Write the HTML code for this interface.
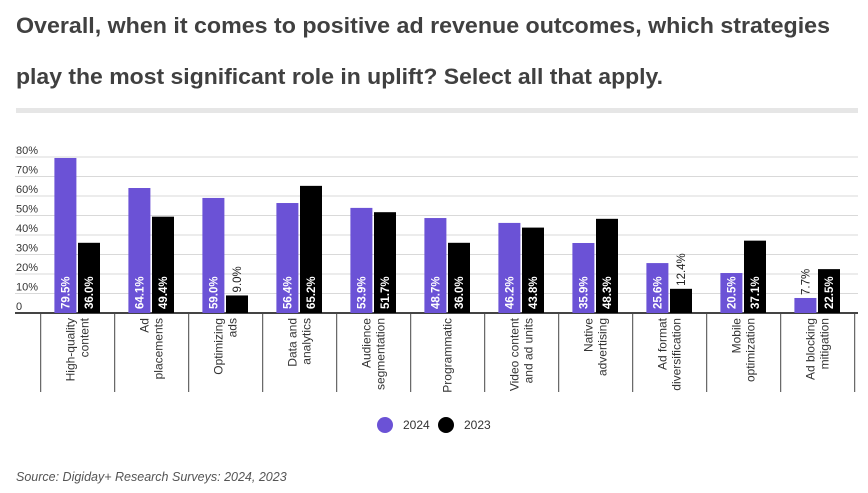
<!DOCTYPE html>
<html><head><meta charset="utf-8"><style>
html,body{margin:0;padding:0;background:#fff;width:868px;height:493px;overflow:hidden}
svg{display:block;font-family:"Liberation Sans",sans-serif}
</style></head><body>
<svg id="chart" width="868" height="493" viewBox="0 0 868 493">
<text x="16" y="33" font-size="22" font-weight="bold" fill="#404040" textLength="814" lengthAdjust="spacingAndGlyphs">Overall, when it comes to positive ad revenue outcomes, which strategies</text>
<text x="16" y="84" font-size="22" font-weight="bold" fill="#404040" textLength="647" lengthAdjust="spacingAndGlyphs">play the most significant role in uplift? Select all that apply.</text>
<rect x="16" y="108" width="842" height="5" fill="#e6e6e6"/>
<g id="grid"></g>
<g id="bars"></g>
<g id="cats"></g>
<g>
<circle cx="385" cy="425" r="8" fill="#6b52d6"/>
<text x="403" y="429" font-size="12" fill="#333">2024</text>
<circle cx="446" cy="425" r="8" fill="#000"/>
<text x="464" y="429" font-size="12" fill="#333">2023</text>
</g>
<text x="16" y="481" font-size="12.5" font-style="italic" fill="#555">Source: Digiday+ Research Surveys: 2024, 2023</text>
</svg>
<script>
const categories = [["High-quality","content"],["Ad","placements"],["Optimizing","ads"],["Data and","analytics"],["Audience","segmentation"],["Programmatic"],["Video content","and ad units"],["Native","advertising"],["Ad format","diversification"],["Mobile","optimization"],["Ad blocking","mitigation"]];
const values2024 = [79.5,64.1,59.0,56.4,53.9,48.7,46.2,35.9,25.6,20.5,7.7];
const values2023 = [36.0,49.4,9.0,65.2,51.7,36.0,43.8,48.3,12.4,37.1,22.5];
const yTicks = [0,10,20,30,40,50,60,70,80];
const yTickLabels = ["0","10%","20%","30%","40%","50%","60%","70%","80%"];

const NS="http://www.w3.org/2000/svg";
const x0=40.7, step=74, base=313, pxPer=1.95;
const y=v=>base-v*pxPer;
const cx=i=>x0+step*i+step/2;
function mk(tag,attrs,parent){const e=document.createElementNS(NS,tag);for(const k in attrs)e.setAttribute(k,attrs[k]);parent.appendChild(e);return e;}
const grid=document.getElementById('grid'),bars=document.getElementById('bars'),cats=document.getElementById('cats');
yTicks.forEach((t,i)=>{
  if(t>0){const l=mk('line',{x1:15,x2:858,y1:y(t),y2:y(t),stroke:'#d9d9d9','stroke-width':1},grid);
  
  }
  const tx=mk('text',{x:16,y:y(t)-3,'font-size':11,fill:'#333'},grid);
  tx.textContent=yTickLabels[i];
  
  
});
const ax=mk('line',{x1:15,x2:858,y1:base,y2:base,stroke:'#444','stroke-width':2},grid);


for(let i=0;i<=categories.length;i++){
  const t=mk('line',{x1:x0+step*i,x2:x0+step*i,y1:base,y2:392,stroke:'#444','stroke-width':1},grid);
  
  
}
function bar(v,xl,fill,name){
  const r=mk('rect',{x:xl,y:y(v),width:22,height:base-y(v),fill:fill},bars);
  
  
  const lx=xl+11+4;
  const inside=v>=14;
  const ty=inside?base-4:y(v)-3;
  const t=mk('text',{x:lx,y:ty,'font-size':11.5,'font-weight':inside?'bold':'normal',fill:inside?'#fff':'#222',transform:`rotate(-90 ${lx} ${ty})`},bars);
  t.textContent=v.toFixed(1)+'%';
  
  
}
categories.forEach((c,i)=>{
  const c0=cx(i);
  bar(values2024[i],c0-23.3,'#6b52d6','bar-2024');
  bar(values2023[i],c0+0.3,'#000','bar-2023');
  const n=c.length;
  c.forEach((line,j)=>{
    const lx=c0+(j-(n-1)/2)*14+4;
    const t=mk('text',{x:lx,y:318,'font-size':12,fill:'#333','text-anchor':'end',transform:`rotate(-90 ${lx} 318)`},cats);
    t.textContent=line;
    
    
  });
});
</script>
</body></html>
